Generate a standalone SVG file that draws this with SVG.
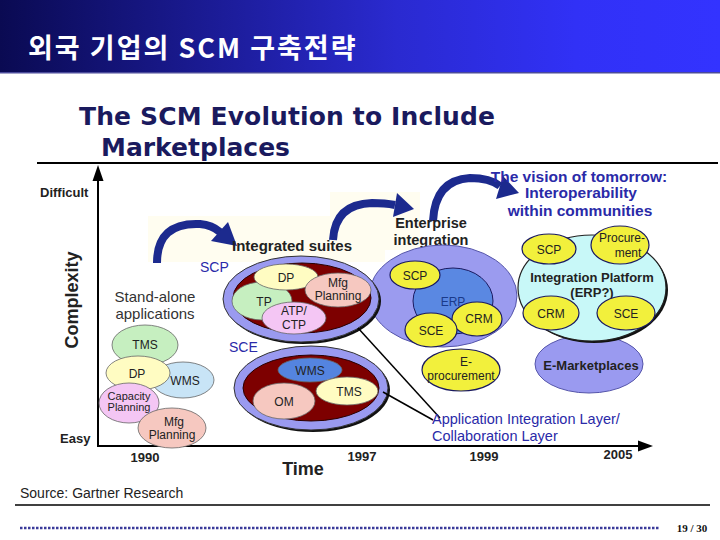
<svg xmlns="http://www.w3.org/2000/svg" width="720" height="540" viewBox="0 0 720 540">
<defs>
<linearGradient id="hdr" x1="0" y1="0" x2="1" y2="0">
<stop offset="0" stop-color="#0a0a52"/>
<stop offset="0.55" stop-color="#2a2ad0"/>
<stop offset="0.8" stop-color="#3131f6"/>
<stop offset="1" stop-color="#3333ff"/>
</linearGradient>
<style>
.sans{font-family:"Liberation Sans",Arial,sans-serif}
.b{font-weight:bold}
.lbl{font-family:"Liberation Sans",Arial,sans-serif;font-size:12px;fill:#222;text-anchor:middle}
.sm{font-size:11px}
.blue{fill:#2a2aa8}
.item{stroke:#666;stroke-width:0.8}
.yel{fill:#f2f03c;stroke:#1a1a60;stroke-width:1.2}
.arrow{fill:none;stroke:#1c2a8e;stroke-width:8}
.head{fill:#1c2a8e}
.axis{stroke:#000;stroke-width:2;fill:none}
.conn{stroke:#000;stroke-width:1.5;fill:none}
.ttl{font-family:"DejaVu Sans",Verdana,sans-serif;font-size:25px;font-weight:bold;fill:#1a1a5e}
</style>
</defs>
<rect x="0" y="0" width="720" height="72" fill="url(#hdr)"/>
<rect x="0" y="72" width="720" height="1.5" fill="#4a4a9a"/>
<text x="28" y="58" font-family="'Noto Sans CJK KR','Liberation Sans',sans-serif" font-size="27" font-weight="bold" fill="#fff" letter-spacing="2">외국 기업의 SCM 구축전략</text>

<text class="ttl" x="79" y="125" textLength="416">The SCM Evolution to Include</text>
<text class="ttl" x="101" y="156" textLength="189">Marketplaces</text>
<line x1="37" y1="163" x2="718" y2="163" stroke="#000" stroke-width="2"/>

<!-- pale background behind arrows -->
<path d="M148,216 H330 V192 H420 V250 H385 V262 H148 Z" fill="#fffdf0"/>

<!-- axes -->
<g id="axes">
<line class="axis" x1="98" y1="446" x2="98" y2="178"/>
<polygon points="98,165 92.5,181 103.5,181" fill="#000"/>
<line class="axis" x1="97" y1="446" x2="640" y2="446"/>
<polygon points="653,446 638,440.5 638,451.5" fill="#000"/>
<text class="sans b" x="40" y="197" font-size="13" fill="#222">Difficult</text>
<text class="sans b" x="60" y="443" font-size="13" fill="#222">Easy</text>
<text class="sans b" x="0" y="0" font-size="18" fill="#222" text-anchor="middle" transform="translate(78,300) rotate(-90)">Complexity</text>
<text class="sans b" x="145" y="462" font-size="13" fill="#222" text-anchor="middle">1990</text>
<text class="sans b" x="362" y="461" font-size="13" fill="#222" text-anchor="middle">1997</text>
<text class="sans b" x="484" y="461" font-size="13" fill="#222" text-anchor="middle">1999</text>
<text class="sans b" x="618" y="459" font-size="13" fill="#222" text-anchor="middle">2005</text>
<text class="sans b" x="303" y="475" font-size="18" fill="#222" text-anchor="middle">Time</text>
</g>

<!-- curved arrows -->
<g id="arrows">
<path class="arrow" d="M157,263 Q157,222 200,224 Q212,225 220,232"/>
<polygon class="head" points="237,246 211,241 228,222"/>
<path class="arrow" d="M333,240 Q335,204 372,203 Q385,203 395,205"/>
<polygon class="head" points="414,209 393,217 397,193"/>
<path class="arrow" d="M433,221 Q435,180 470,178 Q490,178 500,186"/>
<polygon class="head" points="519,193 496,199 503,176"/>
</g>

<!-- stand-alone -->
<g id="standalone">
<text class="sans" x="155" y="302" font-size="15" fill="#333" text-anchor="middle">Stand-alone</text>
<text class="sans" x="155" y="319" font-size="15" fill="#333" text-anchor="middle">applications</text>
<ellipse class="item" cx="145" cy="345" rx="33" ry="20" fill="#c6efc0"/>
<text class="lbl" x="145" y="349">TMS</text>
<ellipse class="item" cx="183" cy="380" rx="31" ry="18" fill="#c8e4f6"/>
<text class="lbl" x="185" y="385">WMS</text>
<ellipse class="item" cx="138" cy="373" rx="32" ry="17" fill="#fffcc2"/>
<text class="lbl" x="137" y="378">DP</text>
<ellipse class="item" cx="129" cy="403" rx="30" ry="20" fill="#f4c6f4"/>
<text class="lbl sm" x="129" y="400">Capacity</text>
<text class="lbl sm" x="129" y="411">Planning</text>
<ellipse class="item" cx="172" cy="428" rx="34" ry="20" fill="#f6c8c0"/>
<text class="lbl" x="174" y="426">Mfg</text>
<text class="lbl" x="172" y="439">Planning</text>
</g>

<!-- enterprise integration -->
<g id="enterprise">
<text class="sans b" x="431" y="228" font-size="14.5" fill="#222" text-anchor="middle">Enterprise</text>
<text class="sans b" x="431" y="245" font-size="14.5" fill="#222" text-anchor="middle">integration</text>
<ellipse cx="443" cy="296" rx="74" ry="51" fill="#9b9bef" stroke="#5555aa" stroke-width="1"/>
<ellipse cx="453" cy="301" rx="40" ry="33" fill="#5a88e2" stroke="#1a1a60" stroke-width="1"/>
<text class="lbl" x="453" y="306" style="fill:#1a3a8a">ERP</text>
<ellipse class="yel" cx="415" cy="275" rx="25" ry="14"/>
<text class="lbl" x="415" y="280">SCP</text>
<ellipse class="yel" cx="477" cy="319" rx="25" ry="17"/>
<text class="lbl" x="479" y="323">CRM</text>
<ellipse class="yel" cx="431" cy="330" rx="26" ry="17"/>
<text class="lbl" x="431" y="335">SCE</text>
<ellipse class="yel" cx="461" cy="370" rx="39" ry="21"/>
<text class="lbl" x="466" y="366">E-</text>
<text class="lbl" x="461" y="380">procurement</text>
</g>

<!-- integrated suites -->
<g id="integrated">
<text class="sans b" x="292" y="251" font-size="15" fill="#222" text-anchor="middle">Integrated suites</text>
<text class="sans blue" x="200" y="272" font-size="14">SCP</text>
<text class="sans blue" x="229" y="352" font-size="14">SCE</text>
<ellipse cx="303" cy="301" rx="78" ry="43" fill="#111"/>
<ellipse cx="301" cy="299" rx="78" ry="43" fill="#9a9af0" stroke="#333" stroke-width="1"/>
<ellipse cx="302" cy="298" rx="69" ry="35" fill="#7d0000" stroke="#2a0000" stroke-width="1"/>
<ellipse class="item" cx="262" cy="301" rx="30" ry="19" fill="#c6efc0"/>
<text class="lbl" x="264" y="306">TP</text>
<ellipse class="item" cx="286" cy="277" rx="32" ry="13" fill="#fffcc2"/>
<text class="lbl" x="286" y="282">DP</text>
<ellipse class="item" cx="338" cy="290" rx="33" ry="17" fill="#f6c8c0"/>
<text class="lbl" x="338" y="287">Mfg</text>
<text class="lbl" x="338" y="300">Planning</text>
<ellipse class="item" cx="294" cy="318" rx="32" ry="16" fill="#f4c6f4"/>
<text class="lbl" x="294" y="315">ATP/</text>
<text class="lbl" x="294" y="329">CTP</text>

<ellipse cx="313" cy="390" rx="77" ry="42" fill="#111"/>
<ellipse cx="311" cy="388" rx="77" ry="42" fill="#9a9af0" stroke="#333" stroke-width="1"/>
<ellipse cx="311" cy="388" rx="68" ry="33" fill="#7d0000" stroke="#2a0000" stroke-width="1"/>
<ellipse class="item" cx="310" cy="370" rx="32" ry="12" fill="#5484e0"/>
<text class="lbl" x="310" y="375">WMS</text>
<ellipse class="item" cx="284" cy="401" rx="31" ry="18" fill="#f6c8c0"/>
<text class="lbl" x="284" y="406">OM</text>
<ellipse class="item" cx="347" cy="391" rx="31" ry="14" fill="#fffcc2"/>
<text class="lbl" x="349" y="396">TMS</text>
</g>

<!-- vision of tomorrow -->
<g id="vision">
<text class="sans b blue" x="579" y="182" font-size="15.5" text-anchor="middle">The vision of tomorrow:</text>
<text class="sans b blue" x="581" y="198" font-size="15.5" text-anchor="middle">Interoperability</text>
<text class="sans b blue" x="580" y="216" font-size="15.5" text-anchor="middle">within communities</text>
<ellipse cx="589" cy="364" rx="54" ry="29" fill="#9a9af0" stroke="#5555aa" stroke-width="1"/>
<text class="sans b" x="591" y="370" font-size="13" fill="#222" text-anchor="middle">E-Marketplaces</text>
<ellipse cx="594" cy="290" rx="74" ry="53" fill="#111"/>
<ellipse cx="592" cy="288" rx="74" ry="53" fill="#c8f8f8" stroke="#222" stroke-width="1.2"/>
<text class="sans b" x="592" y="282" font-size="13" fill="#222" text-anchor="middle">Integration Platform</text>
<text class="sans b" x="592" y="297" font-size="13" fill="#222" text-anchor="middle">(ERP?)</text>
<ellipse class="yel" cx="549" cy="249" rx="27" ry="15"/>
<text class="lbl" x="549" y="254">SCP</text>
<ellipse class="yel" cx="620" cy="245" rx="29" ry="19"/>
<text class="lbl" x="622" y="242">Procure-</text>
<text class="lbl" x="628" y="257">ment</text>
<ellipse class="yel" cx="551" cy="313" rx="28" ry="17"/>
<text class="lbl" x="551" y="318">CRM</text>
<ellipse class="yel" cx="626" cy="313" rx="29" ry="17"/>
<text class="lbl" x="626" y="318">SCE</text>
</g>

<!-- connectors -->
<g id="connectors">
<line class="conn" x1="358" y1="328" x2="440" y2="418"/>
<line class="conn" x1="383" y1="392" x2="433" y2="420"/>
</g>
<g id="ail">
<text class="sans blue" x="432" y="424" font-size="14.5">Application Integration Layer/</text>
<text class="sans blue" x="432" y="441" font-size="14.5">Collaboration Layer</text>
</g>

<!-- footer -->
<text class="sans" x="20" y="498" font-size="14" fill="#222">Source: Gartner Research</text>
<line x1="15" y1="505" x2="710" y2="505" stroke="#000" stroke-width="1.5"/>
<line x1="20" y1="528" x2="660" y2="528" stroke="#3a3a9a" stroke-width="2.5" stroke-dasharray="2.5,1.5"/>
<text x="692" y="532" font-family="'Liberation Serif','Times New Roman',serif" font-size="11" font-weight="bold" fill="#111" text-anchor="middle">19 / 30</text>
</svg>
